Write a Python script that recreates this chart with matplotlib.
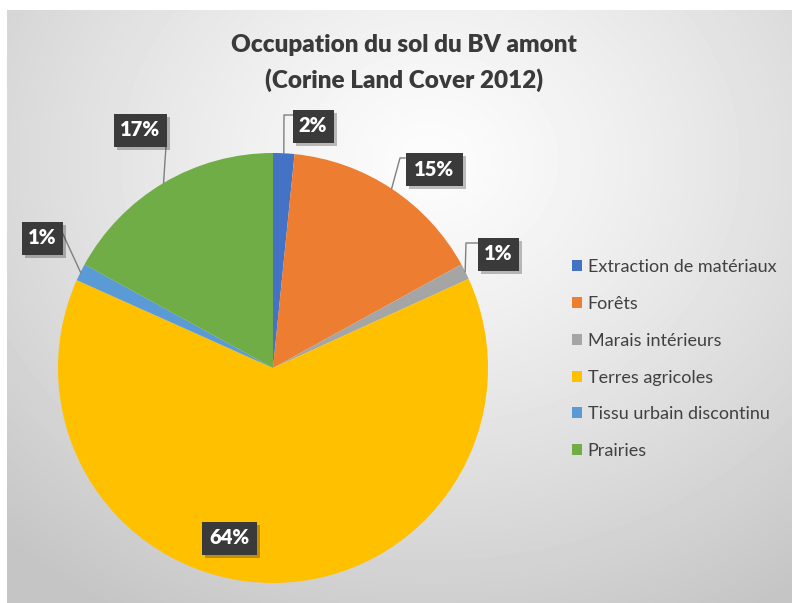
import numpy as np
import matplotlib
matplotlib.use('Agg')
import matplotlib.pyplot as plt
from matplotlib.patches import Rectangle

plt.rcParams['font.family'] = ['Lato', 'DejaVu Sans']

# data
categories = ['Extraction de matériaux', 'Forêts', 'Marais intérieurs',
              'Terres agricoles', 'Tissu urbain discontinu', 'Prairies']
shares = [1.6, 15.4, 1.2, 63.5, 1.3, 17.0]
pct_labels = ['2%', '15%', '1%', '64%', '1%', '17%']
colors = ['#4472C4', '#ED7D31', '#A5A5A5', '#FFC000', '#5B9BD5', '#70AD47']

W, H = 792, 603
# label layout in pixel coords (box centre, box width, elbow point or None)
label_pos = [(313, 126), (434, 169), (498, 254), (229, 538), (42, 238), (140, 130)]
label_w = [41, 57, 41, 55, 41, 53]
elbows = [[(284, 115), (293, 115)],
          [(400, 158), (405, 158)],
          [(466, 243), (478, 243)],
          None,
          [(62, 232)],
          [(166, 146)]]

fig = plt.figure(figsize=(W / 100, H / 100), dpi=100)
ax = fig.add_axes([0, 0, 1, 1])

# background gradient of the chart area
yy, xx = np.mgrid[0:593, 7:W]
d = np.sqrt(((xx - 430) / 1.0) ** 2 + ((yy - 150) / 0.85) ** 2)
g = np.clip(d / 620, 0, 1) ** 1.2
img = 0.99 - g * (0.99 - 0.77)
ax.imshow(img, cmap='gray', vmin=0, vmax=1, extent=[7, W, 0, 593],
          origin='upper', aspect='auto', zorder=0)

cx, cy, r = 273, H - 368, 215
wedges, _ = ax.pie(shares, colors=colors, startangle=90, counterclock=False,
                   center=(cx, cy), radius=r, frame=True,
                   wedgeprops=dict(linewidth=0))
for w in wedges:
    w.set_zorder(2)

# data labels with leader lines
cum = np.cumsum([0] + shares)
total = sum(shares)
for i, lab in enumerate(pct_labels):
    bx, by = label_pos[i]
    by = H - by
    if elbows[i] is not None:
        mid = (cum[i] + cum[i + 1]) / 2 / total * 2 * np.pi
        pts = [(cx + r * np.sin(mid), cy + r * np.cos(mid))]
        pts += [(x, H - y) for x, y in elbows[i]]
        ax.plot([p[0] for p in pts], [p[1] for p in pts], color='#7f7f7f',
                lw=1, zorder=3)
    bw, bh = label_w[i], 33
    ax.add_patch(Rectangle((bx - bw / 2 + 3, by - bh / 2 - 3), bw, bh,
                           fc='#000000', alpha=0.25, ec='none', zorder=4))
    ax.add_patch(Rectangle((bx - bw / 2, by - bh / 2), bw, bh,
                           fc='#3a3a3a', ec='none', zorder=5))
    ax.text(bx, by, lab, color='white', fontsize=14.5, fontweight='heavy',
            ha='center', va='center', zorder=6)

ax.text(404, H - 45, 'Occupation du sol du BV amont', ha='center', va='center',
        fontsize=17.5, fontweight='heavy', color='#3a3a3a')
ax.text(404, H - 80, '(Corine Land Cover 2012)', ha='center', va='center',
        fontsize=17.5, fontweight='heavy', color='#3a3a3a')

leg = ax.legend(wedges, categories, loc='upper left',
                bbox_to_anchor=(556 / W, 1 - 243 / H), frameon=False,
                fontsize=13, labelspacing=1.15, handlelength=0.55,
                handleheight=0.55, handletextpad=0.3)
for t in leg.get_texts():
    t.set_color('#404040')

ax.set_xlim(0, W)
ax.set_ylim(0, H)
ax.set_aspect('auto')
ax.axis('off')
fig.patch.set_facecolor('white')

fig.savefig('out.png', dpi=100)
